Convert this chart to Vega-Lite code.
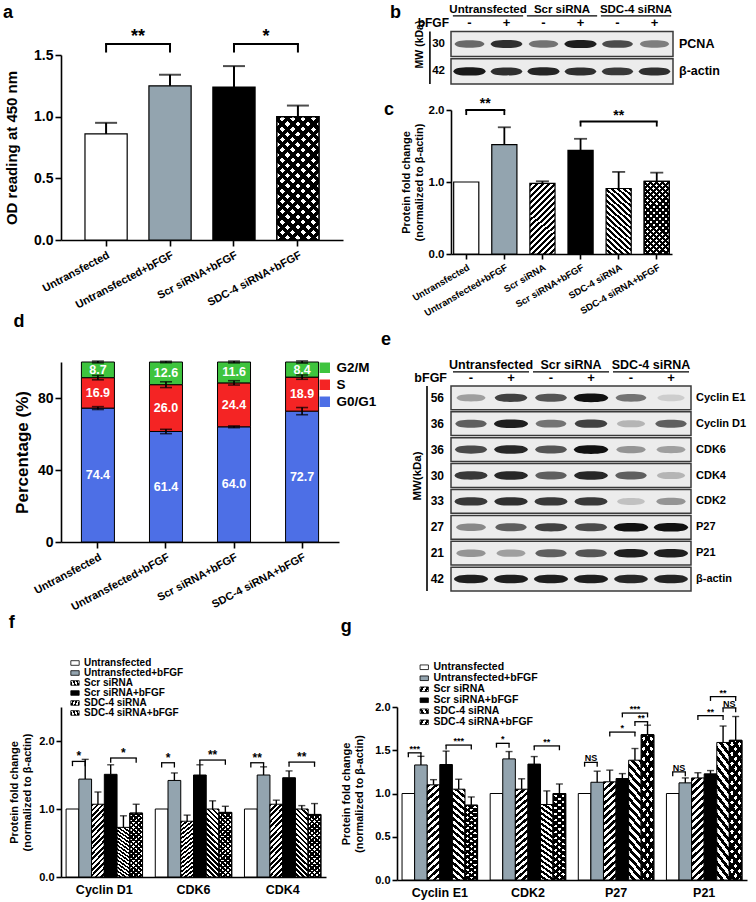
{
"$schema":"https://vega.github.io/schema/vega-lite/v6.json",
"padding":{"left":3,"top":3,"right":2,"bottom":1},
"background":"white",
"params":[
 {"name":"sbw","value":[{"offset":0,"color":"#000"},{"offset":0.03125,"color":"#000"},{"offset":0.03125,"color":"#fff"},{"offset":0.0625,"color":"#fff"},{"offset":0.0625,"color":"#000"},{"offset":0.09375,"color":"#000"},{"offset":0.09375,"color":"#fff"},{"offset":0.125,"color":"#fff"},{"offset":0.125,"color":"#000"},{"offset":0.15625,"color":"#000"},{"offset":0.15625,"color":"#fff"},{"offset":0.1875,"color":"#fff"},{"offset":0.1875,"color":"#000"},{"offset":0.21875,"color":"#000"},{"offset":0.21875,"color":"#fff"},{"offset":0.25,"color":"#fff"},{"offset":0.25,"color":"#000"},{"offset":0.28125,"color":"#000"},{"offset":0.28125,"color":"#fff"},{"offset":0.3125,"color":"#fff"},{"offset":0.3125,"color":"#000"},{"offset":0.34375,"color":"#000"},{"offset":0.34375,"color":"#fff"},{"offset":0.375,"color":"#fff"},{"offset":0.375,"color":"#000"},{"offset":0.40625,"color":"#000"},{"offset":0.40625,"color":"#fff"},{"offset":0.4375,"color":"#fff"},{"offset":0.4375,"color":"#000"},{"offset":0.46875,"color":"#000"},{"offset":0.46875,"color":"#fff"},{"offset":0.5,"color":"#fff"},{"offset":0.5,"color":"#000"},{"offset":0.53125,"color":"#000"},{"offset":0.53125,"color":"#fff"},{"offset":0.5625,"color":"#fff"},{"offset":0.5625,"color":"#000"},{"offset":0.59375,"color":"#000"},{"offset":0.59375,"color":"#fff"},{"offset":0.625,"color":"#fff"},{"offset":0.625,"color":"#000"},{"offset":0.65625,"color":"#000"},{"offset":0.65625,"color":"#fff"},{"offset":0.6875,"color":"#fff"},{"offset":0.6875,"color":"#000"},{"offset":0.71875,"color":"#000"},{"offset":0.71875,"color":"#fff"},{"offset":0.75,"color":"#fff"},{"offset":0.75,"color":"#000"},{"offset":0.78125,"color":"#000"},{"offset":0.78125,"color":"#fff"},{"offset":0.8125,"color":"#fff"},{"offset":0.8125,"color":"#000"},{"offset":0.84375,"color":"#000"},{"offset":0.84375,"color":"#fff"},{"offset":0.875,"color":"#fff"},{"offset":0.875,"color":"#000"},{"offset":0.90625,"color":"#000"},{"offset":0.90625,"color":"#fff"},{"offset":0.9375,"color":"#fff"},{"offset":0.9375,"color":"#000"},{"offset":0.96875,"color":"#000"},{"offset":0.96875,"color":"#fff"},{"offset":1,"color":"#fff"}]},
 {"name":"str","value":[{"offset":0,"color":"#000"},{"offset":0.03125,"color":"#000"},{"offset":0.03125,"color":"transparent"},{"offset":0.0625,"color":"transparent"},{"offset":0.0625,"color":"#000"},{"offset":0.09375,"color":"#000"},{"offset":0.09375,"color":"transparent"},{"offset":0.125,"color":"transparent"},{"offset":0.125,"color":"#000"},{"offset":0.15625,"color":"#000"},{"offset":0.15625,"color":"transparent"},{"offset":0.1875,"color":"transparent"},{"offset":0.1875,"color":"#000"},{"offset":0.21875,"color":"#000"},{"offset":0.21875,"color":"transparent"},{"offset":0.25,"color":"transparent"},{"offset":0.25,"color":"#000"},{"offset":0.28125,"color":"#000"},{"offset":0.28125,"color":"transparent"},{"offset":0.3125,"color":"transparent"},{"offset":0.3125,"color":"#000"},{"offset":0.34375,"color":"#000"},{"offset":0.34375,"color":"transparent"},{"offset":0.375,"color":"transparent"},{"offset":0.375,"color":"#000"},{"offset":0.40625,"color":"#000"},{"offset":0.40625,"color":"transparent"},{"offset":0.4375,"color":"transparent"},{"offset":0.4375,"color":"#000"},{"offset":0.46875,"color":"#000"},{"offset":0.46875,"color":"transparent"},{"offset":0.5,"color":"transparent"},{"offset":0.5,"color":"#000"},{"offset":0.53125,"color":"#000"},{"offset":0.53125,"color":"transparent"},{"offset":0.5625,"color":"transparent"},{"offset":0.5625,"color":"#000"},{"offset":0.59375,"color":"#000"},{"offset":0.59375,"color":"transparent"},{"offset":0.625,"color":"transparent"},{"offset":0.625,"color":"#000"},{"offset":0.65625,"color":"#000"},{"offset":0.65625,"color":"transparent"},{"offset":0.6875,"color":"transparent"},{"offset":0.6875,"color":"#000"},{"offset":0.71875,"color":"#000"},{"offset":0.71875,"color":"transparent"},{"offset":0.75,"color":"transparent"},{"offset":0.75,"color":"#000"},{"offset":0.78125,"color":"#000"},{"offset":0.78125,"color":"transparent"},{"offset":0.8125,"color":"transparent"},{"offset":0.8125,"color":"#000"},{"offset":0.84375,"color":"#000"},{"offset":0.84375,"color":"transparent"},{"offset":0.875,"color":"transparent"},{"offset":0.875,"color":"#000"},{"offset":0.90625,"color":"#000"},{"offset":0.90625,"color":"transparent"},{"offset":0.9375,"color":"transparent"},{"offset":0.9375,"color":"#000"},{"offset":0.96875,"color":"#000"},{"offset":0.96875,"color":"transparent"},{"offset":1,"color":"transparent"}]},
 {"name":"ga_f","expr":"{gradient: 'linear', x1: 0, y1: 0, x2: 0.41, y2: 1.2, stops: sbw}"},
 {"name":"ga_bt","expr":"{gradient: 'linear', x1: 1, y1: 0, x2: 0.59, y2: 1.2, stops: str}"},
 {"name":"gc_f","expr":"{gradient: 'linear', x1: 0, y1: 0, x2: 0.42, y2: 1.2, stops: sbw}"},
 {"name":"gc_b","expr":"{gradient: 'linear', x1: 1, y1: 0, x2: 0.58, y2: 1.2, stops: sbw}"},
 {"name":"gc_bt","expr":"{gradient: 'linear', x1: 1, y1: 0, x2: 0.58, y2: 1.2, stops: str}"},
 {"name":"gf_f","expr":"{gradient: 'linear', x1: 0, y1: 0, x2: 0.21, y2: 1.15, stops: sbw}"},
 {"name":"gf_b","expr":"{gradient: 'linear', x1: 1, y1: 0, x2: 0.79, y2: 1.15, stops: sbw}"},
 {"name":"gf_bt","expr":"{gradient: 'linear', x1: 1, y1: 0, x2: 0.79, y2: 1.15, stops: str}"},
 {"name":"gg_f","expr":"{gradient: 'linear', x1: 0, y1: 0, x2: 0.13, y2: 1.1, stops: sbw}"},
 {"name":"gg_b","expr":"{gradient: 'linear', x1: 1, y1: 0, x2: 0.87, y2: 1.1, stops: sbw}"},
 {"name":"gg_bt","expr":"{gradient: 'linear', x1: 1, y1: 0, x2: 0.87, y2: 1.1, stops: str}"}
],
"config":{
 "font":"Liberation Sans",
 "view":{"stroke":null},
 "axis":{"labelFont":"Liberation Sans","titleFont":"Liberation Sans","labelFontWeight":"bold","titleFontWeight":"bold","labelColor":"#000","titleColor":"#000","domainColor":"#000","tickColor":"#000","grid":false,"domainWidth":1.6,"tickWidth":1.6},
 "legend":{"labelFont":"Liberation Sans","labelFontWeight":"bold","labelColor":"#000"},
 "title":{"font":"Liberation Sans","fontWeight":"bold","fontSize":18,"anchor":"start","frame":"bounds","color":"#000"},
 "text":{"font":"Liberation Sans","fontWeight":"bold","color":"#000"}
},
"resolve":{"scale":{"fill":"independent","color":"independent","size":"independent"},"legend":{"fill":"independent"}},
"spacing":2,
"vconcat":[
{"resolve":{"scale":{"fill":"independent","color":"independent","size":"independent"},"legend":{"fill":"independent"}},
 "spacing":4,
 "hconcat":[
 {"resolve":{"scale":{"fill":"independent","color":"independent","size":"independent"},"legend":{"fill":"independent"}},
  "spacing":3,
  "vconcat":[
  {"title":{"text":"a","offset":-18,"dx":-58},
   "width":282,"height":20,
   "data":{"values":[]},
   "mark":{"type":"point","opacity":0},
   "encoding":{}},
  {"width":282,"height":185,
   "data":{"values":[{"g":"Untransfected","v":0.86,"hi":0.95},{"g":"Untransfected+bFGF","v":1.25,"hi":1.34},{"g":"Scr siRNA+bFGF","v":1.24,"hi":1.41},{"g":"SDC-4 siRNA+bFGF","v":1.0,"hi":1.09}]},
   "layer":[
    {"mark":{"type":"bar","stroke":"#000","strokeWidth":1.2},
     "encoding":{
      "x":{"field":"g","type":"nominal","title":null,"scale":{"domain":["Untransfected","Untransfected+bFGF","Scr siRNA+bFGF","SDC-4 siRNA+bFGF"],"paddingInner":0.34,"paddingOuter":0.375},"axis":{"labelAngle":-28,"labelAlign":"right","labelBaseline":"top","labelFontSize":11,"labelPadding":3,"tickSize":6,"labelOverlap":false,"labelLimit":300}},
      "y":{"field":"v","type":"quantitative","title":"OD reading at 450 nm","scale":{"domain":[0,1.5],"nice":false},"axis":{"values":[0,0.5,1,1.5],"format":".1f","labelFontSize":14,"titleFontSize":15,"tickSize":6,"titlePadding":14,"labelOverlap":false,"labelFlush":false}},
      "fill":{"field":"g","type":"nominal","legend":null,"scale":{"domain":["Untransfected","Untransfected+bFGF","Scr siRNA+bFGF","SDC-4 siRNA+bFGF"],"range":["#ffffff","#93a4af","#000000",{"expr":"ga_f"}]}}
     }},
    {"transform":[{"filter":"datum.g == 'SDC-4 siRNA+bFGF'"}],
     "mark":{"type":"bar","stroke":"#000","strokeWidth":1.2,"fill":{"expr":"ga_bt"}},
     "encoding":{"x":{"field":"g","type":"nominal","title":null},"y":{"field":"v","type":"quantitative"}}},
    {"mark":{"type":"rule","strokeWidth":2},"encoding":{"x":{"field":"g","type":"nominal","title":null},"y":{"field":"v","type":"quantitative"},"y2":{"field":"hi"}}},
    {"mark":{"type":"tick","size":22,"thickness":2,"color":"#000"},"encoding":{"x":{"field":"g","type":"nominal","title":null},"y":{"field":"hi","type":"quantitative"}}},
    {"data":{"values":[{"a":"Untransfected","b":"Untransfected+bFGF","y":1.59,"lo":1.52,"lab":"**"},{"a":"Scr siRNA+bFGF","b":"SDC-4 siRNA+bFGF","y":1.59,"lo":1.52,"lab":"*"}]},
     "layer":[
      {"mark":{"type":"rule","strokeWidth":2,"strokeCap":"square"},"encoding":{"x":{"field":"a","type":"nominal","title":null},"x2":{"field":"b"},"y":{"field":"y","type":"quantitative"}}},
      {"mark":{"type":"rule","strokeWidth":2},"encoding":{"x":{"field":"a","type":"nominal","title":null},"y":{"field":"y","type":"quantitative"},"y2":{"field":"lo"}}},
      {"mark":{"type":"rule","strokeWidth":2},"encoding":{"x":{"field":"b","type":"nominal","title":null},"y":{"field":"y","type":"quantitative"},"y2":{"field":"lo"}}},
      {"mark":{"type":"text","baseline":"bottom","dx":32,"dy":2,"fontSize":18},"encoding":{"x":{"field":"a","type":"nominal","title":null},"y":{"field":"y","type":"quantitative"},"text":{"field":"lab"}}}
     ]}
   ]},
  {"title":{"text":"d","offset":29},
   "width":278,"height":180,
   "layer":[
    {"data":{"values":[{"g":"Untransfected","ph":"G0/G1","k":1,"v":74.4},{"g":"Untransfected","ph":"S","k":2,"v":16.9},{"g":"Untransfected","ph":"G2/M","k":3,"v":8.7},{"g":"Untransfected+bFGF","ph":"G0/G1","k":1,"v":61.4},{"g":"Untransfected+bFGF","ph":"S","k":2,"v":26.0},{"g":"Untransfected+bFGF","ph":"G2/M","k":3,"v":12.6},{"g":"Scr siRNA+bFGF","ph":"G0/G1","k":1,"v":64.0},{"g":"Scr siRNA+bFGF","ph":"S","k":2,"v":24.4},{"g":"Scr siRNA+bFGF","ph":"G2/M","k":3,"v":11.6},{"g":"SDC-4 siRNA+bFGF","ph":"G0/G1","k":1,"v":72.7},{"g":"SDC-4 siRNA+bFGF","ph":"S","k":2,"v":18.9},{"g":"SDC-4 siRNA+bFGF","ph":"G2/M","k":3,"v":8.4}]},
     "layer":[
      {"mark":{"type":"bar","stroke":"#000","strokeWidth":1},
       "encoding":{
        "x":{"field":"g","type":"nominal","title":null,"scale":{"domain":["Untransfected","Untransfected+bFGF","Scr siRNA+bFGF","SDC-4 siRNA+bFGF"],"paddingInner":0.515,"paddingOuter":0.3},"axis":{"labelAngle":-28,"labelAlign":"right","labelBaseline":"top","labelFontSize":11,"labelPadding":3,"tickSize":6,"labelOverlap":false,"labelLimit":300}},
        "y":{"field":"v","type":"quantitative","stack":"zero","title":"Percentage (%)","scale":{"domain":[0,100],"nice":false},"axis":{"values":[0,20,40,60,80,100],"labelFontSize":14,"titleFontSize":17,"tickSize":6,"titlePadding":6,"labelOverlap":false,"labelFlush":false}},
        "fill":{"field":"ph","type":"nominal","scale":{"domain":["G2/M","S","G0/G1"],"range":["#3ec43e","#f42424","#4d6fe6"]},"legend":{"title":null,"orient":"none","legendX":257,"legendY":-1,"symbolType":"square","symbolSize":110,"symbolStrokeWidth":0,"symbolOpacity":1,"labelFontSize":13.5,"rowPadding":2,"labelOffset":5}},
        "order":{"field":"k","type":"quantitative"}}},
      {"mark":{"type":"text","color":"#fff","fontSize":12.5},
       "encoding":{
        "x":{"field":"g","type":"nominal","title":null},
        "y":{"field":"v","type":"quantitative","stack":"zero","bandPosition":0.5},
        "detail":{"field":"ph"},
        "order":{"field":"k","type":"quantitative"},
        "text":{"field":"v","type":"quantitative","format":".1f"}}}
     ]},
    {"data":{"values":[{"g":"Untransfected","lo":73.6,"hi":75.2},{"g":"Untransfected","lo":90.1,"hi":92.5},{"g":"Untransfected","lo":99.5,"hi":100.5},{"g":"Untransfected+bFGF","lo":60.2,"hi":62.6},{"g":"Untransfected+bFGF","lo":85.8,"hi":89.0},{"g":"Untransfected+bFGF","lo":99.6,"hi":100.4},{"g":"Scr siRNA+bFGF","lo":63.5,"hi":64.5},{"g":"Scr siRNA+bFGF","lo":87.2,"hi":89.6},{"g":"Scr siRNA+bFGF","lo":99.5,"hi":100.5},{"g":"SDC-4 siRNA+bFGF","lo":70.7,"hi":74.7},{"g":"SDC-4 siRNA+bFGF","lo":90.4,"hi":92.8},{"g":"SDC-4 siRNA+bFGF","lo":99.4,"hi":100.6}]},
     "layer":[
      {"mark":{"type":"rule","strokeWidth":1.6},"encoding":{"x":{"field":"g","type":"nominal","title":null},"y":{"field":"lo","type":"quantitative"},"y2":{"field":"hi"}}},
      {"mark":{"type":"tick","size":12,"thickness":1.6,"color":"#000"},"encoding":{"x":{"field":"g","type":"nominal","title":null},"y":{"field":"lo","type":"quantitative"}}},
      {"mark":{"type":"tick","size":12,"thickness":1.6,"color":"#000"},"encoding":{"x":{"field":"g","type":"nominal","title":null},"y":{"field":"hi","type":"quantitative"}}}
     ]}
   ]}
 ]},
 {"resolve":{"scale":{"fill":"independent","color":"independent","size":"independent"},"legend":{"fill":"independent"}},
  "spacing":12,
  "vconcat":[
  {"title":{"text":"b","offset":-18,"dx":-24},
   "width":222,"height":80,
   "layer":[
    {"data":{"values":[{"r":"PCNA","mw":"30"},{"r":"β-actin","mw":"42"}]},
     "layer":[
      {"mark":{"type":"rect","fill":"#ececec","stroke":"#3a3a3a","strokeWidth":1.5},
       "encoding":{"y":{"field":"r","type":"nominal","scale":{"domain":["hdr","PCNA","β-actin"],"paddingInner":0.08,"paddingOuter":0},"axis":{"title":"MW (kDa)","labels":false,"ticks":false,"domain":false,"offset":27,"titlePadding":0,"titleFontSize":10.5}}}},
      {"mark":{"type":"text","align":"left","dx":6,"fontSize":12.5},"encoding":{"x":{"datum":"L6","type":"nominal","bandPosition":1,"axis":null},"y":{"field":"r","type":"nominal"},"text":{"field":"r"}}},
      {"mark":{"type":"text","align":"right","dx":-6,"fontSize":11.5},"encoding":{"x":{"datum":"L1","type":"nominal","bandPosition":0,"axis":null},"y":{"field":"r","type":"nominal"},"text":{"field":"mw"}}}
     ]},
    {"data":{"values":[{"t":"bFGF"}]},
     "layer":[
      {"mark":{"type":"text","align":"right","dx":-2,"fontSize":12},"encoding":{"x":{"datum":"L1","type":"nominal","bandPosition":0,"axis":null},"y":{"datum":"hdr","type":"nominal","bandPosition":0.75},"text":{"field":"t"}}},
      {"mark":{"type":"rule","strokeWidth":1.6},"encoding":{"x":{"datum":"L1","type":"nominal","bandPosition":-0.57,"axis":null},"y":{"datum":"PCNA","type":"nominal","bandPosition":0},"y2":{"datum":"β-actin","bandPosition":1}}}
     ]},
    {"data":{"values":[{"r":"PCNA","lane":"L1","i":0.55},{"r":"PCNA","lane":"L2","i":0.85},{"r":"PCNA","lane":"L3","i":0.5},{"r":"PCNA","lane":"L4","i":0.95},{"r":"PCNA","lane":"L5","i":0.7},{"r":"PCNA","lane":"L6","i":0.45},{"r":"β-actin","lane":"L1","i":0.97},{"r":"β-actin","lane":"L2","i":0.85},{"r":"β-actin","lane":"L3","i":0.92},{"r":"β-actin","lane":"L4","i":0.85},{"r":"β-actin","lane":"L5","i":0.8},{"r":"β-actin","lane":"L6","i":0.85}]},
     "mark":{"type":"point","filled":true,"opacity":0.95,"strokeWidth":0,"shape":"M-1,0C-0.9,-0.2 -0.6,-0.25 0,-0.25C0.6,-0.25 0.9,-0.2 1,0C0.9,0.2 0.6,0.25 0,0.25C-0.6,0.25 -0.9,0.2 -1,0Z"},
     "encoding":{"x":{"field":"lane","type":"nominal","scale":{"domain":["L1","L2","L3","L4","L5","L6"],"paddingInner":0,"paddingOuter":0},"axis":null},"y":{"field":"r","type":"nominal"},
      "color":{"field":"i","type":"quantitative","scale":{"domain":[0,1],"range":["#e4e4e4","#050505"]},"legend":null},
      "size":{"field":"i","type":"quantitative","scale":{"domain":[0,1],"range":[680,1080]},"legend":null}}},
    {"data":{"values":[{"lane":"L1","s":"-"},{"lane":"L2","s":"+"},{"lane":"L3","s":"-"},{"lane":"L4","s":"+"},{"lane":"L5","s":"-"},{"lane":"L6","s":"+"}]},
     "mark":{"type":"text","fontSize":13},"encoding":{"x":{"field":"lane","type":"nominal","axis":null},"y":{"datum":"hdr","type":"nominal","bandPosition":0.75},"text":{"field":"s"}}},
    {"data":{"values":[{"grp":"Untransfected","a":"L1","b":"L2"},{"grp":"Scr siRNA","a":"L3","b":"L4"},{"grp":"SDC-4 siRNA","a":"L5","b":"L6"}]},
     "layer":[
      {"mark":{"type":"text","fontSize":11.5},"encoding":{"x":{"field":"a","type":"nominal","bandPosition":1,"axis":null},"y":{"datum":"hdr","type":"nominal","bandPosition":0.22},"text":{"field":"grp"}}},
      {"mark":{"type":"rule","strokeWidth":1.3},"encoding":{"x":{"field":"a","type":"nominal","bandPosition":0.05,"axis":null},"x2":{"field":"b","bandPosition":0.95},"y":{"datum":"hdr","type":"nominal","bandPosition":0.47}}}
     ]}
   ]},
  {"title":{"text":"c","offset":-22,"dx":-16},
   "width":221,"height":144,
   "data":{"values":[{"g":"Untransfected","v":1.0},{"g":"Untransfected+bFGF","v":1.52,"hi":1.76},{"g":"Scr siRNA","v":0.98,"hi":1.01},{"g":"Scr siRNA+bFGF","v":1.44,"hi":1.6},{"g":"SDC-4 siRNA","v":0.91,"hi":1.14},{"g":"SDC-4 siRNA+bFGF","v":1.01,"hi":1.13}]},
   "layer":[
    {"mark":{"type":"bar","stroke":"#000","strokeWidth":1.2},
     "encoding":{
      "x":{"field":"g","type":"nominal","title":null,"scale":{"domain":["Untransfected","Untransfected+bFGF","Scr siRNA","Scr siRNA+bFGF","SDC-4 siRNA","SDC-4 siRNA+bFGF"],"paddingInner":0.34,"paddingOuter":0.07},"axis":{"labelAngle":-30,"labelAlign":"right","labelBaseline":"top","labelFontSize":9.5,"labelPadding":3,"tickSize":5,"labelOverlap":false,"labelLimit":300}},
      "y":{"field":"v","type":"quantitative","title":["Protein fold change","(normalized to β-actin)"],"scale":{"domain":[0,2],"nice":false},"axis":{"values":[0,0.5,1,1.5,2],"format":".1f","labelFontSize":11.5,"titleFontSize":11,"tickSize":5,"titlePadding":4,"labelOverlap":false,"labelFlush":false}},
      "fill":{"field":"g","type":"nominal","legend":null,"scale":{"domain":["Untransfected","Untransfected+bFGF","Scr siRNA","Scr siRNA+bFGF","SDC-4 siRNA","SDC-4 siRNA+bFGF"],"range":["#ffffff","#93a4af",{"expr":"gc_f"},"#000000",{"expr":"gc_b"},{"expr":"gc_f"}]}}
     }},
    {"transform":[{"filter":"datum.g == 'SDC-4 siRNA+bFGF'"}],
     "mark":{"type":"bar","stroke":"#000","strokeWidth":1.2,"fill":{"expr":"gc_bt"}},
     "encoding":{"x":{"field":"g","type":"nominal","title":null},"y":{"field":"v","type":"quantitative"}}},
    {"transform":[{"filter":"isValid(datum.hi)"}],"mark":{"type":"rule","strokeWidth":1.8},"encoding":{"x":{"field":"g","type":"nominal","title":null},"y":{"field":"v","type":"quantitative"},"y2":{"field":"hi"}}},
    {"transform":[{"filter":"isValid(datum.hi)"}],"mark":{"type":"tick","size":13,"thickness":1.8,"color":"#000"},"encoding":{"x":{"field":"g","type":"nominal","title":null},"y":{"field":"hi","type":"quantitative"}}},
    {"data":{"values":[{"a":"Untransfected","b":"Untransfected+bFGF","m":"Untransfected","p":"edge","y":2.0,"lo":1.93,"lab":"**"},{"a":"Scr siRNA+bFGF","b":"SDC-4 siRNA+bFGF","m":"SDC-4 siRNA","p":"mid","y":1.84,"lo":1.77,"lab":"**"}]},
     "layer":[
      {"mark":{"type":"rule","strokeWidth":1.8,"strokeCap":"square"},"encoding":{"x":{"field":"a","type":"nominal","title":null},"x2":{"field":"b"},"y":{"field":"y","type":"quantitative"}}},
      {"mark":{"type":"rule","strokeWidth":1.8},"encoding":{"x":{"field":"a","type":"nominal","title":null},"y":{"field":"y","type":"quantitative"},"y2":{"field":"lo"}}},
      {"mark":{"type":"rule","strokeWidth":1.8},"encoding":{"x":{"field":"b","type":"nominal","title":null},"y":{"field":"y","type":"quantitative"},"y2":{"field":"lo"}}},
      {"transform":[{"filter":"datum.p == 'edge'"}],"mark":{"type":"text","baseline":"bottom","dx":19,"dy":1,"fontSize":14},"encoding":{"x":{"field":"m","type":"nominal","title":null},"y":{"field":"y","type":"quantitative"},"text":{"field":"lab"}}},
      {"transform":[{"filter":"datum.p == 'mid'"}],"mark":{"type":"text","baseline":"bottom","dy":1,"fontSize":14},"encoding":{"x":{"field":"m","type":"nominal","title":null},"y":{"field":"y","type":"quantitative"},"text":{"field":"lab"}}}
     ]}
   ]},
  {"title":{"text":"e","offset":10,"dx":-30},
   "width":240,"height":231,
   "layer":[
    {"data":{"values":[{"r":"Cyclin E1","mw":"56"},{"r":"Cyclin D1","mw":"36"},{"r":"CDK6","mw":"36"},{"r":"CDK4","mw":"30"},{"r":"CDK2","mw":"33"},{"r":"P27","mw":"27"},{"r":"P21","mw":"21"},{"r":"β-actin","mw":"42"}]},
     "layer":[
      {"mark":{"type":"rect","fill":"#ececec","stroke":"#3a3a3a","strokeWidth":1.5},
       "encoding":{"y":{"field":"r","type":"nominal","scale":{"domain":["hdr","Cyclin E1","Cyclin D1","CDK6","CDK4","CDK2","P27","P21","β-actin"],"paddingInner":0.08,"paddingOuter":0},"axis":{"title":"MW(kDa)","labels":false,"ticks":false,"domain":false,"offset":29,"titlePadding":0,"titleFontSize":11.5}}}},
      {"mark":{"type":"text","align":"left","dx":5,"fontSize":11},"encoding":{"x":{"datum":"L6","type":"nominal","bandPosition":1,"axis":null},"y":{"field":"r","type":"nominal"},"text":{"field":"r"}}},
      {"mark":{"type":"text","align":"right","dx":-7,"fontSize":12},"encoding":{"x":{"datum":"L1","type":"nominal","bandPosition":0,"axis":null},"y":{"field":"r","type":"nominal"},"text":{"field":"mw"}}}
     ]},
    {"data":{"values":[{"t":"bFGF"}]},
     "layer":[
      {"mark":{"type":"text","align":"right","dx":-4,"fontSize":12.5},"encoding":{"x":{"datum":"L1","type":"nominal","bandPosition":0,"axis":null},"y":{"datum":"hdr","type":"nominal","bandPosition":0.76},"text":{"field":"t"}}},
      {"mark":{"type":"rule","strokeWidth":1.6},"encoding":{"x":{"datum":"L1","type":"nominal","bandPosition":-0.6,"axis":null},"y":{"datum":"Cyclin E1","type":"nominal","bandPosition":0},"y2":{"datum":"β-actin","bandPosition":1}}}
     ]},
    {"data":{"values":[
      {"r":"Cyclin E1","lane":"L1","i":0.3},{"r":"Cyclin E1","lane":"L2","i":0.75},{"r":"Cyclin E1","lane":"L3","i":0.65},{"r":"Cyclin E1","lane":"L4","i":1.0},{"r":"Cyclin E1","lane":"L5","i":0.5},{"r":"Cyclin E1","lane":"L6","i":0.1},
      {"r":"Cyclin D1","lane":"L1","i":0.6},{"r":"Cyclin D1","lane":"L2","i":0.95},{"r":"Cyclin D1","lane":"L3","i":0.5},{"r":"Cyclin D1","lane":"L4","i":0.75},{"r":"Cyclin D1","lane":"L5","i":0.2},{"r":"Cyclin D1","lane":"L6","i":0.6},
      {"r":"CDK6","lane":"L1","i":0.7},{"r":"CDK6","lane":"L2","i":0.9},{"r":"CDK6","lane":"L3","i":0.65},{"r":"CDK6","lane":"L4","i":1.0},{"r":"CDK6","lane":"L5","i":0.35},{"r":"CDK6","lane":"L6","i":0.3},
      {"r":"CDK4","lane":"L1","i":0.8},{"r":"CDK4","lane":"L2","i":0.9},{"r":"CDK4","lane":"L3","i":0.6},{"r":"CDK4","lane":"L4","i":0.9},{"r":"CDK4","lane":"L5","i":0.6},{"r":"CDK4","lane":"L6","i":0.2},
      {"r":"CDK2","lane":"L1","i":0.8},{"r":"CDK2","lane":"L2","i":0.85},{"r":"CDK2","lane":"L3","i":0.8},{"r":"CDK2","lane":"L4","i":0.8},{"r":"CDK2","lane":"L5","i":0.15},{"r":"CDK2","lane":"L6","i":0.35},
      {"r":"P27","lane":"L1","i":0.4},{"r":"P27","lane":"L2","i":0.6},{"r":"P27","lane":"L3","i":0.75},{"r":"P27","lane":"L4","i":0.7},{"r":"P27","lane":"L5","i":1.0},{"r":"P27","lane":"L6","i":1.0},
      {"r":"P21","lane":"L1","i":0.35},{"r":"P21","lane":"L2","i":0.3},{"r":"P21","lane":"L3","i":0.6},{"r":"P21","lane":"L4","i":0.65},{"r":"P21","lane":"L5","i":0.95},{"r":"P21","lane":"L6","i":0.95},
      {"r":"β-actin","lane":"L1","i":0.95},{"r":"β-actin","lane":"L2","i":0.95},{"r":"β-actin","lane":"L3","i":0.95},{"r":"β-actin","lane":"L4","i":0.95},{"r":"β-actin","lane":"L5","i":0.9},{"r":"β-actin","lane":"L6","i":0.92}]},
     "mark":{"type":"point","filled":true,"opacity":0.95,"strokeWidth":0,"shape":"M-1,0C-0.9,-0.2 -0.6,-0.25 0,-0.25C0.6,-0.25 0.9,-0.2 1,0C0.9,0.2 0.6,0.25 0,0.25C-0.6,0.25 -0.9,0.2 -1,0Z"},
     "encoding":{"x":{"field":"lane","type":"nominal","scale":{"domain":["L1","L2","L3","L4","L5","L6"],"paddingInner":0,"paddingOuter":0},"axis":null},"y":{"field":"r","type":"nominal"},
      "color":{"field":"i","type":"quantitative","scale":{"domain":[0,1],"range":["#e4e4e4","#050505"]},"legend":null},
      "size":{"field":"i","type":"quantitative","scale":{"domain":[0,1],"range":[700,1200]},"legend":null}}},
    {"data":{"values":[{"lane":"L1","s":"-"},{"lane":"L2","s":"+"},{"lane":"L3","s":"-"},{"lane":"L4","s":"+"},{"lane":"L5","s":"-"},{"lane":"L6","s":"+"}]},
     "mark":{"type":"text","fontSize":13},"encoding":{"x":{"field":"lane","type":"nominal","axis":null},"y":{"datum":"hdr","type":"nominal","bandPosition":0.76},"text":{"field":"s"}}},
    {"data":{"values":[{"grp":"Untransfected","a":"L1","b":"L2"},{"grp":"Scr siRNA","a":"L3","b":"L4"},{"grp":"SDC-4 siRNA","a":"L5","b":"L6"}]},
     "layer":[
      {"mark":{"type":"text","fontSize":12.5},"encoding":{"x":{"field":"a","type":"nominal","bandPosition":1,"axis":null},"y":{"datum":"hdr","type":"nominal","bandPosition":0.2},"text":{"field":"grp"}}},
      {"mark":{"type":"rule","strokeWidth":1.3},"encoding":{"x":{"field":"a","type":"nominal","bandPosition":0.05,"axis":null},"x2":{"field":"b","bandPosition":0.95},"y":{"datum":"hdr","type":"nominal","bandPosition":0.5}}}
     ]}
   ]}
 ]}
]},
{"resolve":{"scale":{"fill":"independent","color":"independent","size":"independent"},"legend":{"fill":"independent"}},
 "spacing":14,
 "hconcat":[
 {"title":{"text":"f","offset":26},
  "width":265,"height":170,
  "data":{"values":[
   {"k":"D1_1","g":"Untransfected","v":1.0},{"k":"D1_2","g":"Untransfected+bFGF","v":1.44,"hi":1.73},{"k":"D1_3","g":"Scr siRNA","v":1.07,"hi":1.25},{"k":"D1_4","g":"Scr siRNA+bFGF","v":1.51,"hi":1.65},{"k":"D1_5","g":"SDC-4 siRNA","v":0.73,"hi":0.9},{"k":"D1_6","g":"SDC-4 siRNA+bFGF","v":0.94,"hi":1.07},
   {"k":"K6_1","g":"Untransfected","v":1.0},{"k":"K6_2","g":"Untransfected+bFGF","v":1.42,"hi":1.53},{"k":"K6_3","g":"Scr siRNA","v":0.82,"hi":0.91},{"k":"K6_4","g":"Scr siRNA+bFGF","v":1.5,"hi":1.65},{"k":"K6_5","g":"SDC-4 siRNA","v":1.0,"hi":1.12},{"k":"K6_6","g":"SDC-4 siRNA+bFGF","v":0.95,"hi":1.04},
   {"k":"K4_1","g":"Untransfected","v":1.0},{"k":"K4_2","g":"Untransfected+bFGF","v":1.5,"hi":1.62},{"k":"K4_3","g":"Scr siRNA","v":1.07,"hi":1.13},{"k":"K4_4","g":"Scr siRNA+bFGF","v":1.46,"hi":1.56},{"k":"K4_5","g":"SDC-4 siRNA","v":1.0,"hi":1.05},{"k":"K4_6","g":"SDC-4 siRNA+bFGF","v":0.92,"hi":1.08}]},
  "layer":[
   {"mark":{"type":"bar","stroke":"#000","strokeWidth":1},
    "encoding":{
     "x":{"field":"k","type":"nominal","title":null,"scale":{"domain":["D1_1","D1_2","D1_3","D1_4","D1_5","D1_6","s1","K6_1","K6_2","K6_3","K6_4","K6_5","K6_6","s2","K4_1","K4_2","K4_3","K4_4","K4_5","K4_6"],"paddingInner":0,"paddingOuter":0.4},"axis":{"labelExpr":"datum.value == 'D1_3' ? 'Cyclin D1' : datum.value == 'K6_3' ? 'CDK6' : datum.value == 'K4_3' ? 'CDK4' : ''","labelOffset":6.4,"ticks":false,"labelAngle":0,"labelFontSize":12.5,"labelPadding":6,"labelOverlap":false}},
     "y":{"field":"v","type":"quantitative","title":["Protein fold change","(normalized to β-actin)"],"scale":{"domain":[0,2.5],"nice":false},"axis":{"values":[0,0.5,1,1.5,2,2.5],"format":".1f","labelFontSize":11,"titleFontSize":11,"tickSize":5,"titlePadding":6,"labelOverlap":false,"labelFlush":false,"labelBound":false}},
     "fill":{"field":"g","type":"nominal","scale":{"domain":["Untransfected","Untransfected+bFGF","Scr siRNA","Scr siRNA+bFGF","SDC-4 siRNA","SDC-4 siRNA+bFGF"],"range":["#ffffff","#93a4af",{"expr":"gf_f"},"#000000",{"expr":"gf_b"},{"expr":"gf_f"}]},
      "legend":{"title":null,"orient":"none","legendX":9,"legendY":-49,"symbolType":"M-1,-0.55L1,-0.55L1,0.55L-1,0.55Z","symbolSize":70,"symbolStrokeColor":"#000","symbolStrokeWidth":0.8,"symbolOpacity":1,"labelFontSize":10,"rowPadding":-1,"labelOffset":4}}
    }},
   {"transform":[{"filter":"datum.g == 'SDC-4 siRNA+bFGF'"}],
    "mark":{"type":"bar","stroke":"#000","strokeWidth":1,"fill":{"expr":"gf_bt"}},
    "encoding":{"x":{"field":"k","type":"nominal","title":null},"y":{"field":"v","type":"quantitative"}}},
   {"transform":[{"filter":"isValid(datum.hi)"}],"mark":{"type":"rule","strokeWidth":1.4},"encoding":{"x":{"field":"k","type":"nominal","title":null},"y":{"field":"v","type":"quantitative"},"y2":{"field":"hi"}}},
   {"transform":[{"filter":"isValid(datum.hi)"}],"mark":{"type":"tick","size":7,"thickness":1.4,"color":"#000"},"encoding":{"x":{"field":"k","type":"nominal","title":null},"y":{"field":"hi","type":"quantitative"}}},
   {"data":{"values":[{"a":"D1_1","b":"D1_2","m":"D1_1","p":"edge","y":1.7,"lo":1.63,"lab":"*"},{"a":"D1_4","b":"D1_6","m":"D1_5","p":"mid","y":1.75,"lo":1.68,"lab":"*"},{"a":"K6_1","b":"K6_2","m":"K6_1","p":"edge","y":1.68,"lo":1.61,"lab":"*"},{"a":"K6_4","b":"K6_6","m":"K6_5","p":"mid","y":1.72,"lo":1.65,"lab":"**"},{"a":"K4_1","b":"K4_2","m":"K4_1","p":"edge","y":1.68,"lo":1.61,"lab":"**"},{"a":"K4_4","b":"K4_6","m":"K4_5","p":"mid","y":1.69,"lo":1.62,"lab":"**"}]},
    "layer":[
     {"mark":{"type":"rule","strokeWidth":1.3,"strokeCap":"square"},"encoding":{"x":{"field":"a","type":"nominal","title":null},"x2":{"field":"b"},"y":{"field":"y","type":"quantitative"}}},
     {"mark":{"type":"rule","strokeWidth":1.3},"encoding":{"x":{"field":"a","type":"nominal","title":null},"y":{"field":"y","type":"quantitative"},"y2":{"field":"lo"}}},
     {"mark":{"type":"rule","strokeWidth":1.3},"encoding":{"x":{"field":"b","type":"nominal","title":null},"y":{"field":"y","type":"quantitative"},"y2":{"field":"lo"}}},
     {"transform":[{"filter":"datum.p == 'edge'"}],"mark":{"type":"text","baseline":"bottom","dy":2,"fontSize":12},"encoding":{"x":{"field":"m","type":"nominal","title":null,"bandPosition":1},"y":{"field":"y","type":"quantitative"},"text":{"field":"lab"}}},
     {"transform":[{"filter":"datum.p == 'mid'"}],"mark":{"type":"text","baseline":"bottom","dy":2,"fontSize":12},"encoding":{"x":{"field":"m","type":"nominal","title":null},"y":{"field":"y","type":"quantitative"},"text":{"field":"lab"}}}
    ]}
  ]},
 {"title":{"text":"g","offset":26},
  "width":350,"height":173,
  "data":{"values":[
   {"k":"E1_1","g":"Untransfected","v":1.0},{"k":"E1_2","g":"Untransfected+bFGF","v":1.33,"hi":1.43},{"k":"E1_3","g":"Scr siRNA","v":1.1,"hi":1.16},{"k":"E1_4","g":"Scr siRNA+bFGF","v":1.335,"hi":1.49},{"k":"E1_5","g":"SDC-4 siRNA","v":1.05,"hi":1.165},{"k":"E1_6","g":"SDC-4 siRNA+bFGF","v":0.865,"hi":0.96},
   {"k":"K2_1","g":"Untransfected","v":1.0},{"k":"K2_2","g":"Untransfected+bFGF","v":1.4,"hi":1.485},{"k":"K2_3","g":"Scr siRNA","v":1.05,"hi":1.17},{"k":"K2_4","g":"Scr siRNA+bFGF","v":1.34,"hi":1.427},{"k":"K2_5","g":"SDC-4 siRNA","v":0.873,"hi":1.03},{"k":"K2_6","g":"SDC-4 siRNA+bFGF","v":1.0,"hi":1.11},
   {"k":"P27_1","g":"Untransfected","v":1.0},{"k":"P27_2","g":"Untransfected+bFGF","v":1.13,"hi":1.258},{"k":"P27_3","g":"Scr siRNA","v":1.135,"hi":1.27},{"k":"P27_4","g":"Scr siRNA+bFGF","v":1.173,"hi":1.23},{"k":"P27_5","g":"SDC-4 siRNA","v":1.385,"hi":1.52},{"k":"P27_6","g":"SDC-4 siRNA+bFGF","v":1.68,"hi":1.79},
   {"k":"P21_1","g":"Untransfected","v":1.0},{"k":"P21_2","g":"Untransfected+bFGF","v":1.123,"hi":1.18},{"k":"P21_3","g":"Scr siRNA","v":1.18,"hi":1.24},{"k":"P21_4","g":"Scr siRNA+bFGF","v":1.227,"hi":1.265},{"k":"P21_5","g":"SDC-4 siRNA","v":1.59,"hi":1.78},{"k":"P21_6","g":"SDC-4 siRNA+bFGF","v":1.615,"hi":1.89}]},
  "layer":[
   {"mark":{"type":"bar","stroke":"#000","strokeWidth":1},
    "encoding":{
     "x":{"field":"k","type":"nominal","title":null,"scale":{"domain":["E1_1","E1_2","E1_3","E1_4","E1_5","E1_6","s1","K2_1","K2_2","K2_3","K2_4","K2_5","K2_6","s2","P27_1","P27_2","P27_3","P27_4","P27_5","P27_6","s3","P21_1","P21_2","P21_3","P21_4","P21_5","P21_6"],"paddingInner":0,"paddingOuter":0.4},"axis":{"labelExpr":"datum.value == 'E1_3' ? 'Cyclin E1' : datum.value == 'K2_3' ? 'CDK2' : datum.value == 'P27_3' ? 'P27' : datum.value == 'P21_3' ? 'P21' : ''","labelOffset":6.3,"ticks":false,"labelAngle":0,"labelFontSize":12.5,"labelPadding":6,"labelOverlap":false}},
     "y":{"field":"v","type":"quantitative","title":["Protein fold change","(normalized to β-actin)"],"scale":{"domain":[0,2],"nice":false},"axis":{"values":[0,0.5,1,1.5,2],"format":".1f","labelFontSize":11,"titleFontSize":11,"tickSize":5,"titlePadding":10,"labelOverlap":false,"labelFlush":false}},
     "fill":{"field":"g","type":"nominal","scale":{"domain":["Untransfected","Untransfected+bFGF","Scr siRNA","Scr siRNA+bFGF","SDC-4 siRNA","SDC-4 siRNA+bFGF"],"range":["#ffffff","#93a4af",{"expr":"gg_f"},"#000000",{"expr":"gg_b"},{"expr":"gg_f"}]},
      "legend":{"title":null,"orient":"none","legendX":22,"legendY":-45,"symbolType":"M-1,-0.55L1,-0.55L1,0.55L-1,0.55Z","symbolSize":70,"symbolStrokeColor":"#000","symbolStrokeWidth":0.8,"symbolOpacity":1,"labelFontSize":10.5,"rowPadding":0,"labelOffset":4}}
    }},
   {"transform":[{"filter":"datum.g == 'SDC-4 siRNA+bFGF'"}],
    "mark":{"type":"bar","stroke":"#000","strokeWidth":1,"fill":{"expr":"gg_bt"}},
    "encoding":{"x":{"field":"k","type":"nominal","title":null},"y":{"field":"v","type":"quantitative"}}},
   {"transform":[{"filter":"isValid(datum.hi)"}],"mark":{"type":"rule","strokeWidth":1.4},"encoding":{"x":{"field":"k","type":"nominal","title":null},"y":{"field":"v","type":"quantitative"},"y2":{"field":"hi"}}},
   {"transform":[{"filter":"isValid(datum.hi)"}],"mark":{"type":"tick","size":7,"thickness":1.4,"color":"#000"},"encoding":{"x":{"field":"k","type":"nominal","title":null},"y":{"field":"hi","type":"quantitative"}}},
   {"data":{"values":[{"a":"E1_1","b":"E1_2","m":"E1_1","p":"edge","y":1.47,"lo":1.42,"lab":"***"},{"a":"E1_4","b":"E1_6","m":"E1_5","p":"mid","y":1.56,"lo":1.51,"lab":"***"},{"a":"K2_1","b":"K2_2","m":"K2_1","p":"edge","y":1.58,"lo":1.53,"lab":"*"},{"a":"K2_4","b":"K2_6","m":"K2_5","p":"mid","y":1.55,"lo":1.5,"lab":"**"},{"a":"P27_1","b":"P27_2","m":"P27_1","p":"edge","y":1.36,"lo":1.31,"lab":"NS"},{"a":"P27_3","b":"P27_5","m":"P27_4","p":"mid","y":1.71,"lo":1.66,"lab":"*"},{"a":"P27_5","b":"P27_6","m":"P27_5","p":"edge","y":1.83,"lo":1.78,"lab":"**"},{"a":"P27_4","b":"P27_6","m":"P27_5","p":"mid","y":1.93,"lo":1.88,"lab":"***"},{"a":"P21_1","b":"P21_2","m":"P21_1","p":"edge","y":1.25,"lo":1.2,"lab":"NS"},{"a":"P21_3","b":"P21_5","m":"P21_4","p":"mid","y":1.9,"lo":1.85,"lab":"**"},{"a":"P21_5","b":"P21_6","m":"P21_5","p":"edge","y":1.99,"lo":1.94,"lab":"NS"},{"a":"P21_4","b":"P21_6","m":"P21_5","p":"mid","y":2.12,"lo":2.07,"lab":"**"}]},
    "layer":[
     {"mark":{"type":"rule","strokeWidth":1.3,"strokeCap":"square"},"encoding":{"x":{"field":"a","type":"nominal","title":null},"x2":{"field":"b"},"y":{"field":"y","type":"quantitative"}}},
     {"mark":{"type":"rule","strokeWidth":1.3},"encoding":{"x":{"field":"a","type":"nominal","title":null},"y":{"field":"y","type":"quantitative"},"y2":{"field":"lo"}}},
     {"mark":{"type":"rule","strokeWidth":1.3},"encoding":{"x":{"field":"b","type":"nominal","title":null},"y":{"field":"y","type":"quantitative"},"y2":{"field":"lo"}}},
     {"transform":[{"filter":"datum.p == 'edge'"}],"mark":{"type":"text","baseline":"bottom","dy":1,"fontSize":9},"encoding":{"x":{"field":"m","type":"nominal","title":null,"bandPosition":1},"y":{"field":"y","type":"quantitative"},"text":{"field":"lab"}}},
     {"transform":[{"filter":"datum.p == 'mid'"}],"mark":{"type":"text","baseline":"bottom","dy":1,"fontSize":9},"encoding":{"x":{"field":"m","type":"nominal","title":null},"y":{"field":"y","type":"quantitative"},"text":{"field":"lab"}}}
    ]}
  ]}
]}
]
}
